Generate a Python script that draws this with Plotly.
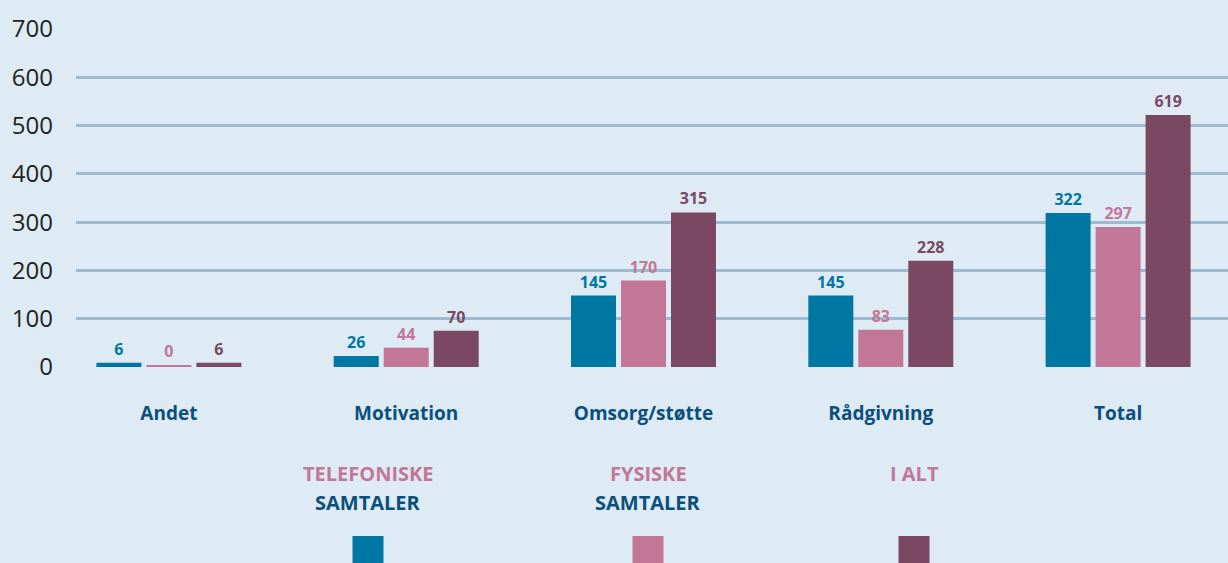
import plotly.graph_objects as go

# categories and series (bar heights as drawn, labels as printed)
categories = ["Andet", "Motivation", "Omsorg/støtte", "Rådgivning", "Total"]
series_names = ["Telefoniske samtaler", "Fysiske samtaler", "I alt"]

telefoniske_bars = [9, 23, 148, 148, 319]
fysiske_bars = [3, 40, 179, 77, 290]
i_alt_bars = [9, 75, 320, 220, 522]

telefoniske_labels = ["6", "26", "145", "145", "322"]
fysiske_labels = ["0", "44", "170", "83", "297"]
i_alt_labels = ["6", "70", "315", "228", "619"]

y_ticks = [0, 100, 200, 300, 400, 500, 600, 700]
grid_ticks = [0, 100, 200, 300, 400, 500, 600]

BLUE = "#0077A3"
PINK = "#C27799"
PURPLE = "#7A4862"
NAVY = "#0B4F7C"
BG = "#DEEBF4"
FONT = "Open Sans"

W, H = 1228, 563
L, R, T, B = 76, 0, 29, 196


def px_x(x):
    return (x - L) / (W - L - R)


def px_y(y):
    return (H - B - y) / (H - T - B)


fig = go.Figure()
for name, bars, labels, color in [
    (series_names[0], telefoniske_bars, telefoniske_labels, BLUE),
    (series_names[1], fysiske_bars, fysiske_labels, PINK),
    (series_names[2], i_alt_bars, i_alt_labels, PURPLE),
]:
    fig.add_trace(go.Bar(
        x=categories, y=bars, name=name, marker=dict(color=color, line=dict(width=0)),
        text=labels, textposition="outside", cliponaxis=False,
        textfont=dict(family=FONT, size=16, color=color, weight="bold"),
        hoverinfo="skip",
    ))

fig.update_layout(
    width=W, height=H,
    margin=dict(l=L, r=R, t=T, b=B),
    paper_bgcolor=BG, plot_bgcolor="rgba(0,0,0,0)",
    barmode="group", bargap=0.368, bargroupgap=0.1,
    showlegend=False,
    font=dict(family=FONT),
    xaxis=dict(
        type="category", range=[-0.3915, 4.4631], showgrid=False, zeroline=False,
        ticks="", ticklabelstandoff=33,
        tickfont=dict(family=FONT, size=19, color=NAVY, weight="bold"),
    ),
    # 700 gets a label but no line, so the lines come from minor ticks
    yaxis=dict(
        range=[0, 700], tickvals=y_ticks, showgrid=False, zeroline=False,
        ticks="", ticklabelstandoff=22,
        tickfont=dict(family=FONT, size=24, color="#222222"),
        minor=dict(tickvals=grid_ticks, showgrid=True, gridcolor="#9DBACE",
                   gridwidth=2.5, ticks=""),
    ),
)

# custom legend under the chart
legend_items = [
    ("TELEFONISKE", "SAMTALER", BLUE, 368),
    ("FYSISKE", "SAMTALER", PINK, 648),
    ("I ALT", None, PURPLE, 914),
]
for top, bottom, color, cx in legend_items:
    fig.add_annotation(
        x=px_x(cx), y=px_y(473), xref="paper", yref="paper", text=top,
        showarrow=False, xanchor="center", yanchor="middle",
        font=dict(family=FONT, size=20, color=PINK, weight="bold"),
    )
    if bottom:
        fig.add_annotation(
            x=px_x(cx), y=px_y(502), xref="paper", yref="paper", text=bottom,
            showarrow=False, xanchor="center", yanchor="middle",
            font=dict(family=FONT, size=20, color=NAVY, weight="bold"),
        )
    fig.add_shape(
        type="rect", xref="paper", yref="paper", layer="above",
        x0=px_x(cx - 15.5), x1=px_x(cx + 15.5), y0=px_y(570), y1=px_y(536),
        fillcolor=color, line=dict(width=0),
    )

fig.write_html("out.html", config={"displayModeBar": False},
               post_script="document.body.style.margin='0';")
